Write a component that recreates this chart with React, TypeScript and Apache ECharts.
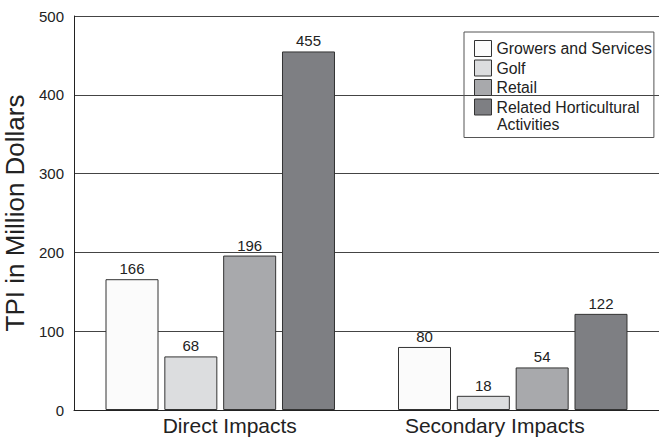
import React, { useEffect, useRef } from "react";
import * as echarts from "echarts";

const categories = ["Direct Impacts", "Secondary Impacts"];
const seriesNames = ["Growers and Services", "Golf", "Retail", "Related Horticultural Activities"];
const growers = [166, 80];
const golf = [68, 18];
const retail = [196, 54];
const related = [455, 122];
const yTicks = { min: 0, max: 500, interval: 100 };

const colors = ["#fbfbfb", "#dcdddf", "#a8a9ac", "#7e7f83"];
const FONT = "'Liberation Sans', Arial, Helvetica, sans-serif";

export default function App() {
  const ref = useRef<HTMLDivElement>(null);
  useEffect(() => {
    if (!ref.current) return;
    const chart = echarts.init(ref.current, null, { renderer: "svg" });
    const values = [growers, golf, retail, related];
    const series = seriesNames.map((name, i) => ({
      name,
      type: "bar",
      data: values[i],
      barWidth: 53,
      barGap: "11%",
      itemStyle: { color: colors[i], borderColor: "#333", borderWidth: 1 },
      label: {
        show: true,
        position: "top",
        distance: 3,
        fontSize: 15,
        color: "#222",
        fontFamily: FONT,
      },
    }));
    chart.setOption({
      animation: false,
      textStyle: { fontFamily: FONT },
      grid: { left: 74, right: 0, top: 16, bottom: 30, outerBoundsMode: "none", containLabel: false },
      legend: {
        orient: "vertical",
        left: 464,
        top: 32,
        padding: [8, 2, 22, 10],
        borderColor: "#555",
        borderWidth: 1,
        icon: "rect",
        itemWidth: 17,
        itemHeight: 16,
        itemGap: 2.5,
        itemStyle: { borderColor: "#333", borderWidth: 1 },
        textStyle: { fontSize: 15.8, color: "#222", fontFamily: FONT },
        data: seriesNames,
        formatter: (n: string) =>
          n === seriesNames[3] ? "Related Horticultural" : n,
      },
      graphic: [
        {
          type: "text",
          left: 497,
          top: 116,
          silent: true,
          style: {
            text: "Activities",
            fontSize: 15.8,
            fill: "#222",
            fontFamily: FONT,
          },
        },
      ],
      xAxis: {
        type: "category",
        data: categories,
        axisLine: { show: true, lineStyle: { color: "#222", width: 1 } },
        axisTick: { show: false },
        axisLabel: {
          margin: 5,
          fontSize: 21,
          color: "#222",
          formatter: (v: string) => (v === categories[0] ? `{d|${v}}` : `{s|${v}}`),
          rich: {
            d: { fontSize: 21, color: "#222", padding: [0, 0, 0, 19], fontFamily: FONT },
            s: { fontSize: 21, color: "#222", padding: [0, 36, 0, 0], fontFamily: FONT },
          },
        },
      },
      yAxis: {
        type: "value",
        min: yTicks.min,
        max: yTicks.max,
        interval: yTicks.interval,
        name: "TPI in Million Dollars",
        nameLocation: "middle",
        nameGap: 39,
        nameTextStyle: { fontSize: 26, color: "#222", fontFamily: FONT },
        axisLine: { show: true, lineStyle: { color: "#222", width: 1 } },
        axisTick: { show: false },
        axisLabel: { fontSize: 15, color: "#222", margin: 10, fontFamily: FONT },
        splitLine: { show: true, lineStyle: { color: "#444", width: 1 } },
      },
      series,
    });
    return () => chart.dispose();
  }, []);
  return <div ref={ref} style={{ width: 659, height: 440, position: "absolute", left: 0, top: 0 }} />;
}
